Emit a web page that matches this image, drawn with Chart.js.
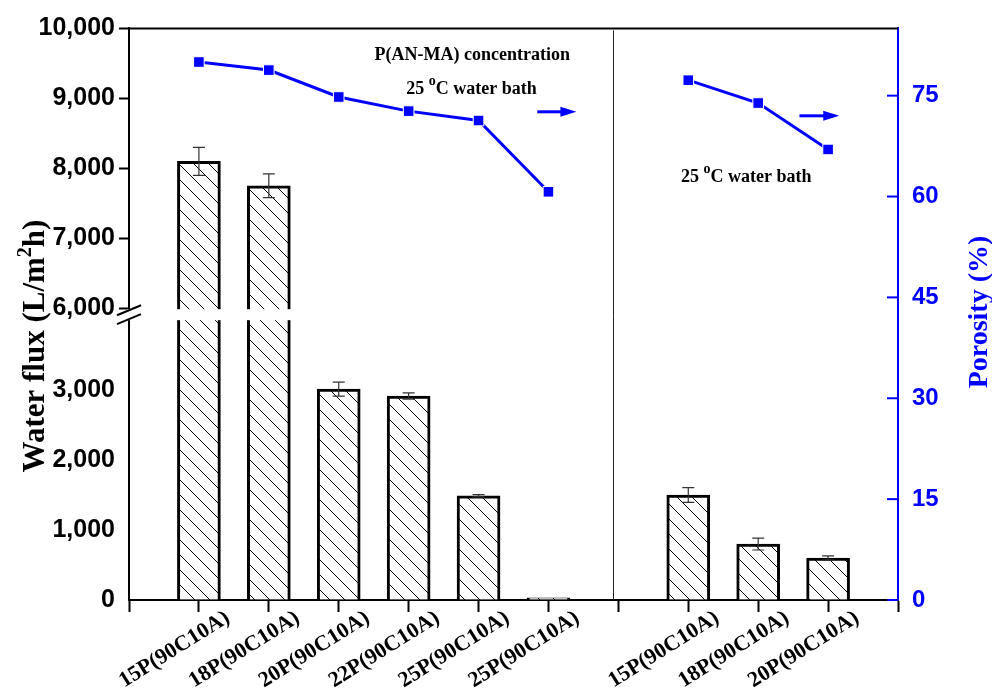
<!DOCTYPE html>
<html>
<head>
<meta charset="utf-8">
<script src="https://cdn.jsdelivr.net/npm/chart.js@4.4.1/dist/chart.umd.min.js"></script>
<style>
  body { margin: 0; background: #fff; }
  #wrap { width: 992px; height: 693px; }
</style>
</head>
<body>
<div id="wrap"><canvas id="fluxChart"></canvas></div>
<script>
// slot 0, 7 and 11 are empty (edges and the gap between the two series)
const labels = ['', '15P(90C10A)', '18P(90C10A)', '20P(90C10A)', '22P(90C10A)', '25P(90C10A)', '25P(90C10A)',
  '', '15P(90C10A)', '18P(90C10A)', '20P(90C10A)', ''];
const waterFlux = [null, 8100, 7750, 3015, 2915, 1490, 30, null, 1500, 800, 600, null];
const fluxError = [null, 200, 170, 100, 45, 15, 0, null, 105, 85, 30, null];
const porosity = [null, 80.0, 78.8, 74.8, 72.7, 71.3, 60.7, null, 77.3, 73.9, 67.0, null];
const fluxTicks = [0, 1000, 2000, 3000, 6000, 7000, 8000, 9000, 10000];
const porosityTicks = [0, 15, 30, 45, 60, 75];

// broken flux axis: lower part runs to 4000, upper part starts at 6000
const breakTop = 4000;
const breakStart = 6000;
const breakShift = 1829;
const toDisplay = v => (v >= breakStart ? v - breakShift : Math.min(v, breakTop + 60));
const fromDisplay = v => (v > breakTop + 60 ? v + breakShift : v);

const BLUE = '#0000ff';
const SERIF = '"Liberation Serif", "Times New Roman", serif';
const SANS = '"Liberation Sans", Arial, sans-serif';

function hatch() {
  const s = 15;
  const c = document.createElement('canvas');
  c.width = s; c.height = s;
  const g = c.getContext('2d');
  g.fillStyle = '#fff';
  g.fillRect(0, 0, s, s);
  g.strokeStyle = '#000';
  g.lineWidth = 1;
  g.beginPath();
  g.moveTo(0, 0); g.lineTo(s, s);
  g.moveTo(-2, s - 2); g.lineTo(2, s + 2);
  g.moveTo(s - 2, -2); g.lineTo(s + 2, 2);
  g.stroke();
  return g.createPattern(c, 'repeat');
}

// draws text pieces; {sup: '...'} pieces are raised and smaller
function drawParts(ctx, parts, x, y, size, supSize, rise) {
  const font = s => `bold ${s}px ${SERIF}`;
  let w = 0;
  parts.forEach(p => {
    ctx.font = typeof p === 'string' ? font(size) : font(supSize);
    w += ctx.measureText(typeof p === 'string' ? p : p.sup).width;
  });
  let cx = x - w / 2;
  ctx.textAlign = 'left';
  ctx.textBaseline = 'alphabetic';
  parts.forEach(p => {
    const str = typeof p === 'string' ? p : p.sup;
    ctx.font = typeof p === 'string' ? font(size) : font(supSize);
    ctx.fillText(str, cx, typeof p === 'string' ? y : y - rise);
    cx += ctx.measureText(str).width;
  });
}

function arrow(ctx, x1, x2, y) {
  ctx.strokeStyle = BLUE;
  ctx.fillStyle = BLUE;
  ctx.lineWidth = 3;
  ctx.beginPath();
  ctx.moveTo(x1, y); ctx.lineTo(x2 - 10, y);
  ctx.stroke();
  ctx.beginPath();
  ctx.moveTo(x2, y); ctx.lineTo(x2 - 16, y - 5); ctx.lineTo(x2 - 16, y + 5);
  ctx.closePath();
  ctx.fill();
}

const extras = {
  id: 'extras',
  afterDatasetsDraw(chart) {
    const { ctx, chartArea: a, scales: { x, y, y1 } } = chart;
    ctx.save();

    // gap in the bars and the axis
    const gTop = y.getPixelForValue(breakStart - breakShift);
    const gBot = y.getPixelForValue(breakTop);
    ctx.fillStyle = '#fff';
    ctx.fillRect(a.left - 2, gTop + 1, a.right - a.left - 1, gBot - gTop - 1);

    // break marks
    ctx.strokeStyle = '#000';
    ctx.lineWidth = 2;
    [gTop + 2, gBot - 1].forEach(cy => {
      ctx.beginPath();
      ctx.moveTo(a.left - 12, cy + 5);
      ctx.lineTo(a.left + 12, cy - 5);
      ctx.stroke();
    });

    // error bars
    ctx.strokeStyle = '#333';
    ctx.lineWidth = 1.2;
    waterFlux.forEach((v, i) => {
      if (v == null || !fluxError[i]) return;
      const px = x.getPixelForValue(i);
      const t = y.getPixelForValue(toDisplay(v + fluxError[i]));
      const b = y.getPixelForValue(toDisplay(v - fluxError[i]));
      ctx.beginPath();
      ctx.moveTo(px, t); ctx.lineTo(px, b);
      ctx.moveTo(px - 6, t); ctx.lineTo(px + 6, t);
      ctx.moveTo(px - 6, b); ctx.lineTo(px + 6, b);
      ctx.stroke();
    });

    // divider between the two series
    ctx.strokeStyle = '#222';
    ctx.lineWidth = 1;
    const dx = Math.round(x.getPixelForValue(7)) - 4.5;
    ctx.beginPath();
    ctx.moveTo(dx, a.top + 2); ctx.lineTo(dx, a.bottom);
    ctx.stroke();

    // top frame
    ctx.strokeStyle = '#000';
    ctx.lineWidth = 2;
    ctx.beginPath();
    ctx.moveTo(a.left - 1, a.top); ctx.lineTo(a.right, a.top);
    ctx.stroke();

    // right axis ticks point inward
    ctx.strokeStyle = BLUE;
    porosityTicks.forEach(v => {
      const py = y1.getPixelForValue(v);
      ctx.beginPath();
      ctx.moveTo(a.right - 11, py); ctx.lineTo(a.right, py);
      ctx.stroke();
    });

    // axis titles
    ctx.fillStyle = '#000';
    ctx.save();
    ctx.translate(y.left + 33, 346);
    ctx.rotate(-Math.PI / 2);
    drawParts(ctx, ['Water flux (L/m', { sup: '2' }, 'h)'], 0, 11, 31, 20, 13);
    ctx.restore();

    ctx.fillStyle = BLUE;
    ctx.save();
    ctx.translate(y1.right - 15, 312);
    ctx.rotate(-Math.PI / 2);
    drawParts(ctx, ['Porosity (%)'], 0, 10, 28, 20, 0);
    ctx.restore();

    // notes
    ctx.fillStyle = '#000';
    drawParts(ctx, ['P(AN-MA) concentration'], x.getPixelForValue(4.91), y1.getPixelForValue(80.3), 18, 13, 0);
    drawParts(ctx, ['25 ', { sup: 'o' }, 'C water bath'], x.getPixelForValue(4.9), y1.getPixelForValue(75.3), 18, 14, 9);
    drawParts(ctx, ['25 ', { sup: 'o' }, 'C water bath'], x.getPixelForValue(8.83), y1.getPixelForValue(62.2), 18, 14, 9);
    arrow(ctx, x.getPixelForValue(5.84), x.getPixelForValue(6.4), y1.getPixelForValue(72.6));
    arrow(ctx, x.getPixelForValue(9.59), x.getPixelForValue(10.16), y1.getPixelForValue(72.0));

    ctx.restore();
  }
};

new Chart(document.getElementById('fluxChart'), {
  data: {
    labels: labels,
    datasets: [
      {
        type: 'line',
        label: 'Porosity',
        data: porosity,
        yAxisID: 'y1',
        order: 0,
        borderColor: BLUE,
        borderWidth: 3,
        pointStyle: 'rect',
        pointRadius: 7.5,
        pointBackgroundColor: BLUE,
        pointBorderColor: '#fff',
        pointBorderWidth: 1,
        spanGaps: false
      },
      {
        type: 'bar',
        label: 'Water flux',
        data: waterFlux.map(v => (v == null ? null : toDisplay(v))),
        yAxisID: 'y',
        order: 1,
        backgroundColor: hatch(),
        borderColor: '#000',
        borderWidth: 3,
        barThickness: 43
      }
    ]
  },
  options: {
    responsive: true,
    maintainAspectRatio: false,
    animation: false,
    layout: { padding: { top: 28, left: 0, right: 0, bottom: 0 } },
    plugins: { legend: { display: false }, tooltip: { enabled: false } },
    scales: {
      x: {
        type: 'category',
        offset: false,
        afterFit: s => { s.height = 93; },
        border: { color: '#000', width: 2 },
        grid: { offset: false, drawOnChartArea: false, tickLength: 12, tickWidth: 2, tickColor: '#000' },
        ticks: {
          autoSkip: false,
          minRotation: 32,
          maxRotation: 32,
          labelOffset: 29,
          padding: -7,
          color: '#000',
          font: { family: SERIF, size: 22, weight: 'bold' }
        }
      },
      y: {
        position: 'left',
        min: 0,
        max: toDisplay(10000),
        afterFit: s => { s.width = 129; },
        afterBuildTicks: s => { s.ticks = fluxTicks.map(v => ({ value: toDisplay(v) })); },
        border: { color: '#000', width: 2 },
        grid: {
          drawOnChartArea: false,
          tickLength: 10,
          tickWidth: 2,
          tickColor: c => (c.tick && c.tick.value > breakTop ? '#000' : 'rgba(0,0,0,0)')
        },
        ticks: {
          padding: 4,
          color: '#000',
          font: { family: SANS, size: 25, weight: 'bold' },
          callback: v => fromDisplay(v).toLocaleString('en-US')
        }
      },
      y1: {
        position: 'right',
        min: 0,
        max: 85,
        afterFit: s => { s.width = 94; },
        afterBuildTicks: s => { s.ticks = porosityTicks.map(v => ({ value: v })); },
        border: { color: BLUE, width: 2 },
        grid: { drawOnChartArea: false, drawTicks: false },
        ticks: {
          padding: 14,
          color: BLUE,
          font: { family: SANS, size: 24, weight: 'bold' }
        }
      }
    }
  },
  plugins: [extras]
});
</script>
</body>
</html>
